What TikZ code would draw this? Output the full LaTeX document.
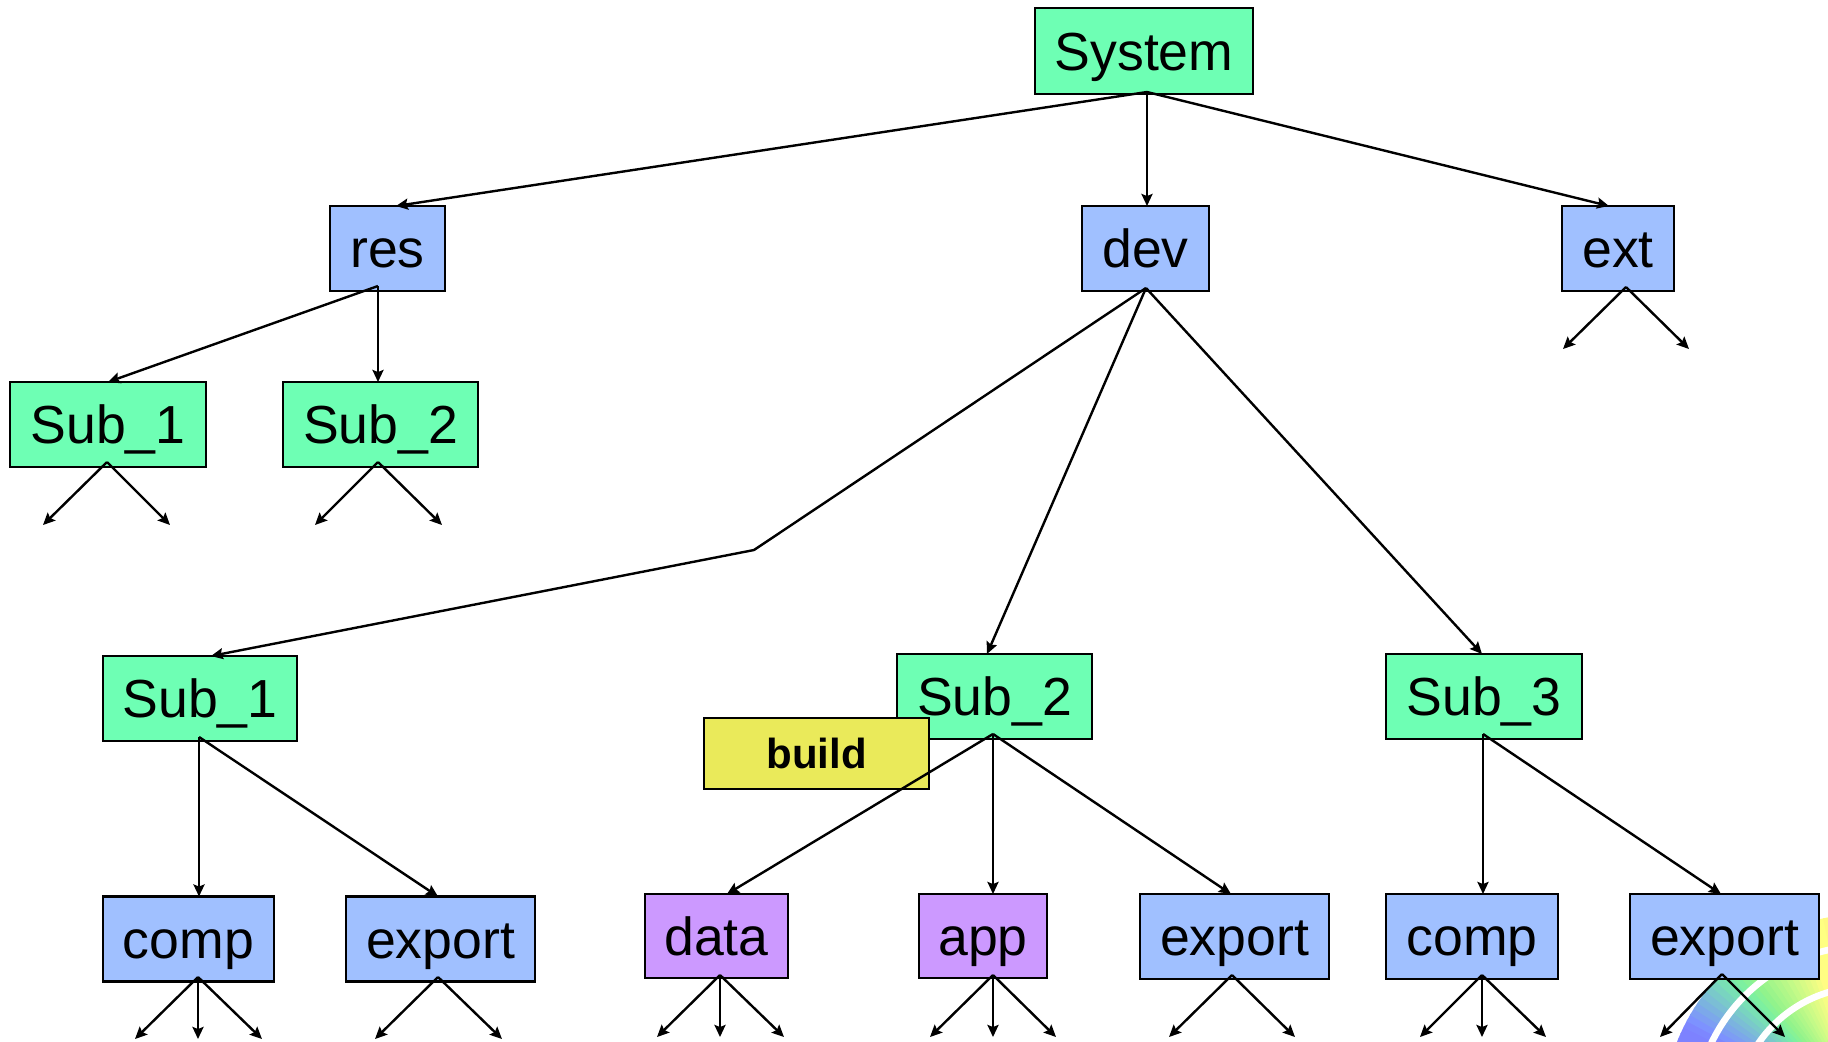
\documentclass[tikz,border=0pt]{standalone}
\usepackage{fontspec}
\setmainfont{Liberation Sans}
\usetikzlibrary{arrows.meta}
\definecolor{cgreen}{RGB}{110,255,180}
\definecolor{cblue}{RGB}{160,192,255}
\definecolor{cpurple}{RGB}{204,153,255}
\definecolor{cyell}{RGB}{234,234,90}
\tikzset{
  x=0.5pt,y=-0.5pt,
  box/.style={draw=black,line width=1.2pt,inner sep=0pt,outer sep=0pt,anchor=north west,align=center,
    font=\fontsize{26.8}{30}\selectfont,text height=19.2pt,text depth=0pt},
  gbox/.style={box,fill=cgreen},
  bbox/.style={box,fill=cblue},
  pbox/.style={box,fill=cpurple},
  ybox/.style={box,fill=cyell,font=\fontsize{21}{24}\selectfont\bfseries,text height=15pt},
  conn/.style={draw=black,line width=1.2pt,-{Stealth[length=6pt,width=5.5pt,inset=1pt]}},
  line/.style={draw=black,line width=1.2pt},
  arcw/.style={draw=white,line width=3.3pt},
}
\newcommand{\mybox}[7]{\node[#1,minimum width={(#5-#3)*0.5pt},minimum height={(#6-#4)*0.5pt}] (#2) at (#3,#4) {#7};}
\newcommand{\ray}[5]{% angle from, angle to, r,g,b
  \definecolor{rc}{RGB}{#3,#4,#5}%
  \fill[rc] ({1865-320*cos(#1)},{1116-320*sin(#1)}) -- (cen) -- ({1865-320*cos(#2)},{1116-320*sin(#2)}) -- cycle;}
\begin{document}
\begin{tikzpicture}
\useasboundingbox (0,0) rectangle (1828,1041);
% background decoration: banded arc with an angular colour sweep
\coordinate (cen) at (1865,1116);
\begin{scope}
  \clip (1600,880) rectangle (1828,1041);
  \clip (cen) circle[radius=202];
  \foreach \a in {0,2,...,118}{
    \pgfmathsetmacro{\t}{\a}
    \pgfmathsetmacro{\rr}{int(\t<30?125:(\t<45?125-5*(\t-30)/15:(\t<72?120+135*(\t-45)/27:255)))}
    \pgfmathsetmacro{\gg}{int(\t<25?130:(\t<45?130+110*(\t-25)/20:(\t<60?240+10*(\t-45)/15:(\t<76?250+5*(\t-60)/16:(\t<90?255-40*(\t-76)/14:215)))))}
    \pgfmathsetmacro{\bb}{int(\t<28?255:(\t<50?255-115*(\t-28)/22:(\t<76?140-10*(\t-50)/26:130)))}
    \pgfmathsetmacro{\nx}{\a+2.6}
    \ray{\a}{\nx}{\rr}{\gg}{\bb}
  }
  \draw[arcw] (cen) circle[radius=170];
  \draw[arcw] (cen) circle[radius=129];
\end{scope}
% nodes
\mybox{gbox}{sys}{1035}{8}{1253}{94}{System}
\mybox{bbox}{res}{330}{206}{445}{291}{res}
\mybox{bbox}{dev}{1082}{206}{1209}{291}{dev}
\mybox{bbox}{ext}{1562}{206}{1674}{291}{ext}
\mybox{gbox}{s1a}{10}{382}{206}{467}{Sub\_1}
\mybox{gbox}{s2a}{283}{382}{478}{467}{Sub\_2}
\mybox{gbox}{s1b}{103}{656}{297}{741}{Sub\_1}
\mybox{gbox}{s2b}{897}{654}{1092}{739}{Sub\_2}
\mybox{gbox}{s3}{1386}{654}{1582}{739}{Sub\_3}
\mybox{ybox}{bld}{704}{718}{929}{789}{build}
\mybox{bbox}{comp}{103}{896.5}{274}{981.5}{comp}
\mybox{bbox}{exp1}{346}{896.5}{535}{981.5}{export}
\mybox{pbox}{data}{645}{894}{788}{978}{data}
\mybox{pbox}{app}{919}{894}{1047}{978}{app}
\mybox{bbox}{exp2}{1140}{894}{1329}{979}{export}
\mybox{bbox}{comp2}{1386}{894}{1558}{979}{comp}
\mybox{bbox}{exp3}{1630}{894}{1819}{979}{export}
% free ends
\coordinate (f1) at (43,525);   \coordinate (f2) at (170,525);
\coordinate (f3) at (315,525);  \coordinate (f4) at (442,525);
\coordinate (f5) at (1563,349); \coordinate (f6) at (1689,349);
\coordinate (bend) at (754,550);
\coordinate (c1) at (135,1039); \coordinate (c2) at (198,1039); \coordinate (c3) at (262,1039);
\coordinate (e1) at (375,1039); \coordinate (e2) at (502,1039);
\coordinate (d1) at (657,1037); \coordinate (d2) at (720,1037); \coordinate (d3) at (784,1037);
\coordinate (a1) at (930,1037); \coordinate (a2) at (993,1037); \coordinate (a3) at (1056,1037);
\coordinate (g1) at (1169,1037); \coordinate (g2) at (1295,1037);
\coordinate (h1) at (1420,1037); \coordinate (h2) at (1482,1037); \coordinate (h3) at (1546,1037);
\coordinate (k1) at (1660,1037); \coordinate (k2) at (1785,1037);
% connectors
\draw[conn] ([shift={(3,-2)}]sys.south) -- ([shift={(8.5,0)}]res.north);
\draw[conn] ([shift={(3,-2)}]sys.south) -- ([shift={(1.5,0)}]dev.north);
\draw[conn] ([shift={(3,-2)}]sys.south) -- ([shift={(-9,0)}]ext.north);
\draw[conn] ([shift={(-9.5,-5)}]res.south) -- (s1a.north);
\draw[conn] ([shift={(-9.5,-5)}]res.south) -- ([shift={(-2.5,0)}]s2a.north);
\draw[conn] ([shift={(-1,-5)}]s1a.south) -- (f1);
\draw[conn] ([shift={(-1,-5)}]s1a.south) -- (f2);
\draw[conn] ([shift={(-2.5,-5)}]s2a.south) -- (f3);
\draw[conn] ([shift={(-2.5,-5)}]s2a.south) -- (f4);
\draw[conn] ([shift={(8,-4)}]ext.south) -- (f5);
\draw[conn] ([shift={(8,-4)}]ext.south) -- (f6);
\draw[conn] ([shift={(0.5,-3)}]dev.south) -- (bend) -- ([shift={(11,0)}]s1b.north);
\draw[conn] ([shift={(0.5,-3)}]dev.south) -- ([shift={(-7.5,0)}]s2b.north);
\draw[conn] ([shift={(0.5,-3)}]dev.south) -- ([shift={(-2,0)}]s3.north);
\draw[conn] ([shift={(-1,-4)}]s1b.south) -- ([shift={(10.5,0)}]comp.north);
\draw[conn] ([shift={(-1,-4)}]s1b.south) -- ([shift={(-2.5,0)}]exp1.north);
\draw[conn] ([shift={(-1.5,-5)}]s2b.south) -- ([shift={(10.5,0)}]data.north);
\draw[conn] ([shift={(-1.5,-5)}]s2b.south) -- ([shift={(10,0)}]app.north);
\draw[conn] ([shift={(-1.5,-5)}]s2b.south) -- ([shift={(-3.5,0)}]exp2.north);
\draw[conn] ([shift={(-1,-5)}]s3.south) -- ([shift={(11,0)}]comp2.north);
\draw[conn] ([shift={(-1,-5)}]s3.south) -- ([shift={(-3.5,0)}]exp3.north);
\draw[conn] ([shift={(9.5,-4.5)}]comp.south) -- (c1);
\draw[conn] ([shift={(9.5,-4.5)}]comp.south) -- (c2);
\draw[conn] ([shift={(9.5,-4.5)}]comp.south) -- (c3);
\draw[conn] ([shift={(-2.5,-4.5)}]exp1.south) -- (e1);
\draw[conn] ([shift={(-2.5,-4.5)}]exp1.south) -- (e2);
\draw[conn] ([shift={(3.5,-3)}]data.south) -- (d1);
\draw[conn] ([shift={(3.5,-3)}]data.south) -- (d2);
\draw[conn] ([shift={(3.5,-3)}]data.south) -- (d3);
\draw[conn] ([shift={(10,-3)}]app.south) -- (a1);
\draw[conn] ([shift={(10,-3)}]app.south) -- (a2);
\draw[conn] ([shift={(10,-3)}]app.south) -- (a3);
\draw[conn] ([shift={(-2.5,-4)}]exp2.south) -- (g1);
\draw[conn] ([shift={(-2.5,-4)}]exp2.south) -- (g2);
\draw[conn] ([shift={(10,-4)}]comp2.south) -- (h1);
\draw[conn] ([shift={(10,-4)}]comp2.south) -- (h2);
\draw[conn] ([shift={(10,-4)}]comp2.south) -- (h3);
\draw[conn] ([shift={(-2.5,-5)}]exp3.south) -- (k1);
\draw[conn] ([shift={(-2.5,-5)}]exp3.south) -- (k2);
\end{tikzpicture}
\end{document}
